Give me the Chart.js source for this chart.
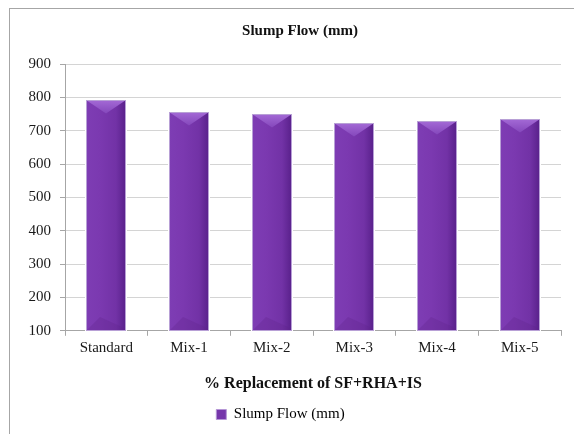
<!DOCTYPE html>
<html>
<head>
<meta charset="utf-8">
<script src="https://cdn.jsdelivr.net/npm/chart.js@4.4.1/dist/chart.umd.min.js"></script>
<style>
  html, body { margin: 0; padding: 0; background: #fff; overflow: hidden; }
  #frame { position: absolute; left: 9px; top: 8px; width: 700px; height: 600px; border: 1px solid #a6a6a6; }
  #wrap { position: absolute; left: 0; top: 0; width: 574px; height: 434px; }
</style>
</head>
<body>
<div id="frame"></div>
<div id="wrap"><canvas id="chart" width="574" height="434"></canvas></div>
<script>
// chart data
const categories = ['Standard', 'Mix-1', 'Mix-2', 'Mix-3', 'Mix-4', 'Mix-5'];
const slumpFlow = [791, 756, 751, 723, 729, 736];
const seriesName = 'Slump Flow (mm)';
const chartTitle = 'Slump Flow (mm)';
const xTitle = '% Replacement of SF+RHA+IS';
const yMin = 100, yMax = 900, yStep = 100;

const serif = "'Liberation Serif', 'Times New Roman', serif";

// title drawn a bit left of the plot centre, like the original
const titlePlugin = {
    id: 'fixedTitle',
    afterDraw(chart) {
        const ctx = chart.ctx;
        ctx.save();
        ctx.font = 'bold 15px ' + serif;
        ctx.fillStyle = '#111';
        ctx.textAlign = 'center';
        ctx.textBaseline = 'middle';
        ctx.fillText(chartTitle, 300, 31);
        ctx.restore();
    }
};

// glossy purple bars with a bevelled top
const bevelPlugin = {
    id: 'bevel',
    afterDatasetsDraw(chart) {
        const ctx = chart.ctx;
        const area = chart.chartArea;
        chart.getDatasetMeta(0).data.forEach(bar => {
            const left = Math.round(bar.x - bar.width / 2);
            const right = Math.round(bar.x + bar.width / 2);
            const top = Math.round(bar.y);
            const bottom = Math.round(Math.min(bar.base, area.bottom));
            const w = right - left;
            const cx = (left + right) / 2;
            ctx.save();
            // wipe the plain bar first
            ctx.fillStyle = '#fff';
            ctx.fillRect(left - 1, top - 1, w + 2, bottom - top + 1);
            const g = ctx.createLinearGradient(left, 0, right, 0);
            g.addColorStop(0, '#7e3db4');
            g.addColorStop(0.35, '#7b39b0');
            g.addColorStop(0.75, '#7232a6');
            g.addColorStop(1, '#58208a');
            ctx.fillStyle = g;
            ctx.fillRect(left, top, w, bottom - top);
            // top bevel
            const d = w * 0.34;
            ctx.beginPath();
            ctx.moveTo(left, top);
            ctx.lineTo(right, top);
            ctx.lineTo(cx, top + d);
            ctx.closePath();
            const tg = ctx.createLinearGradient(0, top, 0, top + d);
            tg.addColorStop(0, '#a46ad6');
            tg.addColorStop(1, '#8447bb');
            ctx.fillStyle = tg;
            ctx.fill();
            // faint bottom bevel
            ctx.beginPath();
            ctx.moveTo(left, bottom);
            ctx.lineTo(right, bottom);
            ctx.lineTo(right - 4, bottom - 4);
            ctx.lineTo(left + 14, bottom - 14);
            ctx.closePath();
            ctx.fillStyle = 'rgba(95,35,140,0.3)';
            ctx.fill();
            ctx.strokeStyle = '#b8a0d6';
            ctx.lineWidth = 1;
            ctx.strokeRect(left + 0.5, top + 0.5, w - 1, bottom - top - 1);
            ctx.restore();
        });
    }
};

new Chart(document.getElementById('chart'), {
    type: 'bar',
    data: {
        labels: categories,
        datasets: [{
            label: seriesName,
            data: slumpFlow,
            backgroundColor: '#7636ab',
            borderWidth: 0,
            categoryPercentage: 1,
            barPercentage: 0.485
        }]
    },
    options: {
        responsive: false,
        animation: false,
        layout: { padding: { top: 64, left: 0, right: 13, bottom: 2 } },
        scales: {
            x: {
                grid: { offset: true, drawOnChartArea: false, tickLength: 5, color: '#a6a6a6' },
                border: { color: '#a6a6a6' },
                ticks: { font: { family: serif, size: 15 }, color: '#1a1a1a', padding: 3 },
                title: {
                    display: true,
                    text: xTitle,
                    font: { family: serif, size: 16, weight: 'bold' },
                    color: '#111',
                    padding: { top: 14, bottom: 8 }
                }
            },
            y: {
                min: yMin,
                max: yMax,
                ticks: { stepSize: yStep, font: { family: serif, size: 15 }, color: '#1a1a1a', padding: 9 },
                grid: { color: '#d4d4d4', tickLength: 5, tickColor: '#a6a6a6' },
                border: { color: '#a6a6a6' },
                afterFit(scale) { scale.width = 65; }
            }
        },
        plugins: {
            legend: {
                position: 'bottom',
                labels: {
                    font: { family: serif, size: 15 },
                    color: '#1a1a1a',
                    boxWidth: 10,
                    boxHeight: 10,
                    padding: 6,
                    generateLabels() {
                        return [{ text: seriesName, fillStyle: '#7636ab', strokeStyle: '#b596d6', lineWidth: 1, datasetIndex: 0 }];
                    }
                }
            },
            title: { display: false },
            tooltip: { enabled: false }
        }
    },
    plugins: [titlePlugin, bevelPlugin]
});
</script>
</body>
</html>
